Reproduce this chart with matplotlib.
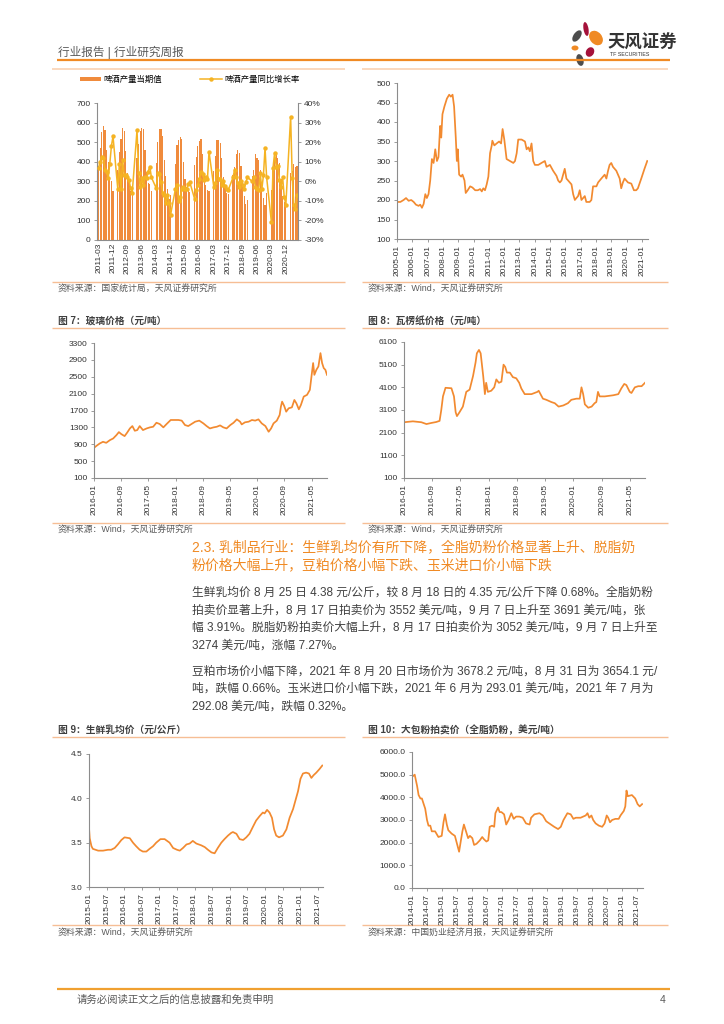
import matplotlib
matplotlib.use("Agg")
import matplotlib.pyplot as plt
import numpy as np
import pandas as pd
from matplotlib.lines import Line2D
from matplotlib.patches import Ellipse, Patch

W, H = 724, 1024
ORANGE = "#F08A24"
FRAME_ORANGE = "#F6BE95"
LINE_ORANGE = "#F28A30"
BAR_ORANGE = "#F08B3C"
GOLD = "#F5B323"
TEXT_GRAY = "#404040"
SRC_GRAY = "#5A5A5A"
AXIS_GRAY = "#8C8C8C"
TICK_COLOR = "#333333"

# ---- beer output (monthly, 2011-03 .. 2021-07, Jan/Feb not published) ----
BEER_START, BEER_END = "2011-03", "2021-07"
BEER_OUTPUT = [
    380, 470, 550, 580, 560, 460, 400, 310, 300, 250,
    None, None, 360, 450, 515, 570, 555, 455, 340, 300, 250, 240,
    None, None, 420, 490, 555, 570, 565, 460, 350, 290, 285, 250,
    None, None, 395, 500, 565, 565, 530, 410, 325, 260, 210, 230,
    None, None, 390, 485, 510, 525, 515, 400, 310, 270, 250, 245,
    None, None, 385, 425, 480, 505, 515, 440, 330, 280, 255, 250,
    None, None, 355, 430, 510, 510, 495, 420, 320, 265, 240, 235,
    None, None, 330, 375, 440, 460, 445, 380, 300, 225, 185, 205,
    None, None, 325, 360, 440, 420, 410, 360, 265, 215, 180, 240,
    None, None, 255, 360, 440, 445, 420, 395, 310, 225, 195, 175,
    None, None, 340, 355, 390, 375, 380,
]
BEER_GROWTH = [
    7, 10, 12.5, 12, 6, 5, 1.5, 9, 18, 23,
    None, None, -4, 9, -4, 11, 3, 3, 2, 0.5, -3.5, -6,
    None, None, 26, 4, -3, 1.5, -2, 2, 1.5, 5, 7.5, 2,
    None, None, -3.5, 4, 3.5, -0.5, -6, -7, -11, -7, -11, -17,
    None, None, -4, -2, -10, -8, -4, -3, -4, -4, -1.5, -0.5,
    None, None, -9, -4.5, -2, 1, 5, 3.5, 0.5, 2, 1, 15,
    None, None, -3, -1, 6, 1, 1, -2, 0, -2.5, -4, -4.5,
    None, None, 2, 6, 2, -1, -3, 0, -2, -4, -0.5, 2,
    None, None, 0, 2, -3, -4, -4.5, 4, -4, 3, 17, 2,
    None, None, -21, 7, 14.5, 7.5, 8, 0.5, -3, 2, -8, -12,
    None, None, 33, 1.5, -12, -14, -7,
]
BEER_TICKS = ["2011-03", "2011-12", "2012-09", "2013-06", "2014-03", "2014-12", "2015-09",
              "2016-06", "2017-03", "2017-12", "2018-09", "2019-06", "2020-03", "2020-12"]

# ---- top-right index (decimal year) ----
INDEX_X = [2005.00, 2005.22, 2005.43, 2005.59, 2005.76, 2005.93, 2006.09, 2006.24, 2006.41, 2006.52,
           2006.63, 2006.74, 2006.85, 2006.95, 2007.06, 2007.17, 2007.28, 2007.39, 2007.50, 2007.61,
           2007.71, 2007.82, 2007.89, 2007.97, 2008.10, 2008.26, 2008.41, 2008.52, 2008.63, 2008.73,
           2008.84, 2008.91, 2008.97, 2009.06, 2009.19, 2009.28, 2009.41, 2009.49, 2009.62, 2009.78,
           2009.93, 2010.11, 2010.28, 2010.43, 2010.54, 2010.64, 2010.75, 2010.86, 2010.97, 2011.08,
           2011.19, 2011.23, 2011.36, 2011.51, 2011.67, 2011.80, 2011.90, 2012.01, 2012.16, 2012.38,
           2012.60, 2012.71, 2012.82, 2012.92, 2013.14, 2013.36, 2013.47, 2013.58, 2013.68, 2013.79,
           2013.90, 2014.01, 2014.23, 2014.44, 2014.66, 2014.77, 2014.99, 2015.20, 2015.42, 2015.53,
           2015.64, 2015.75, 2015.96, 2016.07, 2016.29, 2016.40, 2016.51, 2016.62, 2016.72, 2016.83,
           2016.94, 2017.05, 2017.16, 2017.27, 2017.37, 2017.59, 2017.70, 2017.81, 2018.03, 2018.14,
           2018.35, 2018.57, 2018.68, 2018.79, 2018.89, 2019.00, 2019.11, 2019.33, 2019.55, 2019.65,
           2019.76, 2019.87, 2020.09, 2020.31, 2020.48, 2020.63, 2020.74, 2020.96, 2021.17, 2021.35]
INDEX_Y = [195, 195, 200, 205, 198, 200, 195, 188, 185, 188,
           180, 190, 215, 205, 215, 250, 305, 295, 330, 300,
           310, 390, 360, 420, 440, 460, 470, 465, 470, 440,
           360, 300, 330, 265, 260, 265, 250, 218, 225, 235,
           232, 225, 225, 228, 222, 230, 225, 240, 260, 320,
           340, 352, 340, 345, 350, 345, 382, 355, 305, 300,
           295, 300, 320, 355, 355, 350, 330, 335, 325, 345,
           300, 290, 290, 295, 300, 285, 290, 275, 262, 250,
           245, 250, 280, 255, 245, 240, 215, 200, 205, 210,
           225, 200, 205, 210, 195, 195, 200, 235, 235, 245,
           255, 265, 255, 275, 290, 295, 285, 275, 255, 230,
           245, 255, 245, 242, 225, 225, 230, 255, 280, 300]
INDEX_TICKS = [f"{yr}-01" for yr in range(2005, 2022)]

# ---- Fig 7 glass price ----
GLASS_X = [2016.00, 2016.06, 2016.14, 2016.22, 2016.30, 2016.39, 2016.47, 2016.55, 2016.61, 2016.67,
           2016.75, 2016.81, 2016.88, 2016.94, 2017.00, 2017.06, 2017.12, 2017.20, 2017.29, 2017.37,
           2017.45, 2017.53, 2017.61, 2017.70, 2017.78, 2017.88, 2017.98, 2018.07, 2018.15, 2018.23,
           2018.31, 2018.39, 2018.48, 2018.58, 2018.68, 2018.76, 2018.84, 2018.93, 2019.01, 2019.09,
           2019.17, 2019.25, 2019.34, 2019.42, 2019.50, 2019.58, 2019.62, 2019.70, 2019.79, 2019.87,
           2019.95, 2020.03, 2020.11, 2020.20, 2020.28, 2020.34, 2020.40, 2020.48, 2020.55, 2020.58,
           2020.61, 2020.66, 2020.71, 2020.77, 2020.85, 2020.91, 2020.96, 2021.02, 2021.07, 2021.14,
           2021.22, 2021.29, 2021.32, 2021.37, 2021.40, 2021.45, 2021.50, 2021.55, 2021.59, 2021.63,
           2021.67, 2021.71]
GLASS_Y = [815, 862, 918, 958, 934, 998, 1037, 1117, 1188, 1140,
           1093, 1172, 1275, 1331, 1220, 1236, 1331, 1236, 1275, 1300,
           1315, 1410, 1380, 1300, 1380, 1475, 1475, 1475, 1460, 1355,
           1331, 1380, 1435, 1460, 1395, 1331, 1275, 1300, 1315, 1347,
           1300, 1275, 1355, 1410, 1490, 1435, 1370, 1420, 1435, 1475,
           1460, 1490, 1395, 1331, 1196, 1275, 1395, 1460, 1595, 1790,
           1910, 1810, 1672, 1752, 1775, 1950, 1870, 1728, 1830, 2030,
           2070, 2190, 2430, 2825, 2545, 2665, 2745, 3060, 2825, 2705,
           2665, 2545]
GLASS_TICKS = ["2016-01", "2016-09", "2017-05", "2018-01", "2018-09", "2019-05", "2020-01", "2020-09", "2021-05"]

# ---- Fig 8 corrugated paper price ----
PAPER_X = [2016.00, 2016.21, 2016.41, 2016.53, 2016.65, 2016.76, 2016.84, 2016.88, 2016.92, 2016.98,
           2017.12, 2017.18, 2017.22, 2017.25, 2017.31, 2017.39, 2017.47, 2017.55, 2017.63, 2017.69,
           2017.72, 2017.77, 2017.81, 2017.87, 2017.91, 2017.94, 2017.98, 2018.06, 2018.13, 2018.18,
           2018.24, 2018.30, 2018.35, 2018.39, 2018.43, 2018.50, 2018.57, 2018.65, 2018.72, 2018.77,
           2018.85, 2019.01, 2019.15, 2019.18, 2019.28, 2019.36, 2019.48, 2019.56, 2019.65, 2019.76,
           2019.87, 2019.95, 2020.07, 2020.15, 2020.19, 2020.23, 2020.27, 2020.35, 2020.43, 2020.50,
           2020.54, 2020.58, 2020.62, 2020.74, 2020.94, 2021.06, 2021.13, 2021.20, 2021.25, 2021.33,
           2021.37, 2021.45, 2021.53, 2021.61, 2021.69]
PAPER_Y = [2560, 2600, 2560, 2480, 2530, 2570, 2620, 3100, 3700, 4080,
           4060, 3700, 3000, 2830, 3000, 3250, 3900, 4000, 4600, 5200,
           5600, 5750, 5600, 4600, 3800, 4300, 3900, 3950, 4100, 4450,
           4300, 4350, 5100, 5000, 4750, 4750, 4550, 4500, 4300, 4050,
           3800, 3800, 3900, 3950, 3600, 3550, 3450, 3400, 3250, 3300,
           3400, 3550, 3600, 3600, 4100, 3800, 3350, 3200, 3250, 3400,
           3450, 3900, 3700, 3700, 3750, 3800, 4050, 4250, 4200, 3900,
           3850, 4100, 4150, 4150, 4300]
PAPER_TICKS = GLASS_TICKS

# ---- Fig 9 fresh milk price ----
MILK_X = [2015.00, 2015.02, 2015.07, 2015.11, 2015.26, 2015.40, 2015.54, 2015.63, 2015.73, 2015.82,
          2015.92, 2016.01, 2016.16, 2016.25, 2016.34, 2016.44, 2016.53, 2016.63, 2016.72, 2016.82,
          2016.91, 2017.03, 2017.15, 2017.29, 2017.39, 2017.50, 2017.58, 2017.67, 2017.77, 2017.86,
          2017.95, 2018.05, 2018.19, 2018.29, 2018.38, 2018.48, 2018.57, 2018.66, 2018.76, 2018.85,
          2018.95, 2019.04, 2019.09, 2019.19, 2019.28, 2019.38, 2019.47, 2019.56, 2019.66, 2019.75,
          2019.85, 2019.94, 2019.99, 2020.06, 2020.13, 2020.20, 2020.26, 2020.32, 2020.40, 2020.51,
          2020.61, 2020.70, 2020.80, 2020.87, 2020.94, 2021.01, 2021.08, 2021.17, 2021.25, 2021.32,
          2021.38, 2021.46, 2021.55, 2021.63]
MILK_Y = [3.67, 3.55, 3.46, 3.43, 3.41, 3.41, 3.42, 3.42, 3.44, 3.48,
          3.53, 3.56, 3.55, 3.50, 3.46, 3.42, 3.40, 3.40, 3.43, 3.46,
          3.50, 3.54, 3.54, 3.50, 3.44, 3.42, 3.41, 3.44, 3.48, 3.49,
          3.52, 3.49, 3.47, 3.45, 3.42, 3.39, 3.38, 3.44, 3.50, 3.54,
          3.58, 3.61, 3.62, 3.60, 3.54, 3.53, 3.56, 3.60, 3.68, 3.75,
          3.80, 3.84, 3.83, 3.87, 3.84, 3.78, 3.65, 3.58, 3.56, 3.58,
          3.65, 3.78, 3.88, 3.98, 4.08, 4.22, 4.28, 4.29, 4.28, 4.23,
          4.26, 4.29, 4.33, 4.37]
MILK_TICKS = [f"{yr}-{m}" for yr in range(2015, 2022) for m in ("01", "07")]

# ---- Fig 10 whole milk powder auction price ----
WMP_X = [2014.00, 2014.09, 2014.17, 2014.22, 2014.28, 2014.33, 2014.39, 2014.44, 2014.50, 2014.55,
         2014.61, 2014.66, 2014.77, 2014.88, 2014.99, 2015.05, 2015.10, 2015.16, 2015.21, 2015.32,
         2015.43, 2015.49, 2015.57, 2015.63, 2015.68, 2015.73, 2015.80, 2015.87, 2015.93, 2016.01,
         2016.07, 2016.15, 2016.26, 2016.34, 2016.40, 2016.48, 2016.54, 2016.59, 2016.67, 2016.74,
         2016.78, 2016.87, 2016.92, 2016.98, 2017.07, 2017.14, 2017.22, 2017.31, 2017.39, 2017.47,
         2017.58, 2017.69, 2017.80, 2017.92, 2017.97, 2018.08, 2018.25, 2018.36, 2018.47, 2018.52,
         2018.63, 2018.74, 2018.87, 2018.96, 2019.05, 2019.18, 2019.29, 2019.38, 2019.46, 2019.62,
         2019.79, 2019.85, 2019.91, 2019.98, 2020.04, 2020.12, 2020.23, 2020.34, 2020.42, 2020.49,
         2020.54, 2020.60, 2020.67, 2020.78, 2020.89, 2020.95, 2021.06, 2021.11, 2021.15, 2021.19,
         2021.33, 2021.44, 2021.52, 2021.59, 2021.67]
WMP_Y = [4900, 5000, 4500, 4100, 3950, 3950, 3700, 3500, 3000, 2750,
         2750, 2500, 2500, 2250, 2300, 2900, 3250, 2800, 2550, 2400,
         2300, 2000, 1600, 2100, 2500, 2800, 2500, 2200, 2300, 2200,
         1900, 1950, 2100, 2250, 2150, 2050, 2100, 2700, 2750, 2700,
         3300, 3550, 3350, 3350, 3250, 2800, 3000, 3300, 3050, 3150,
         3150, 3100, 2850, 2800, 3100, 3250, 3300, 3200, 2950, 2900,
         2800, 2700, 2600, 2700, 3000, 3300, 3250, 3050, 3100, 3100,
         3200, 3300, 3100, 3200, 3000, 2850, 2750, 2700, 2850, 3200,
         3100, 2900, 3000, 3050, 3050, 3200, 3400, 3600, 4300, 4050,
         4100, 3950, 3700, 3600, 3700]
WMP_TICKS = [f"{yr}-{m}" for yr in range(2014, 2022) for m in ("01", "07")]

HEADING_LINES = [
    "2.3. 乳制品行业：生鲜乳均价有所下降，全脂奶粉价格显著上升、脱脂奶",
    "粉价格大幅上升，豆粕价格小幅下跌、玉米进口价小幅下跌",
]
BODY_LINES = [
    "生鲜乳均价 8 月 25 日 4.38 元/公斤，较 8 月 18 日的 4.35 元/公斤下降 0.68%。全脂奶粉",
    "拍卖价显著上升，8 月 17 日拍卖价为 3552 美元/吨，9 月 7 日上升至 3691 美元/吨，张",
    "幅 3.91%。脱脂奶粉拍卖价大幅上升，8 月 17 日拍卖价为 3052 美元/吨，9 月 7 日上升至",
    "3274 美元/吨，涨幅 7.27%。",
    "豆粕市场价小幅下降，2021 年 8 月 20 日市场价为 3678.2 元/吨，8 月 31 日为 3654.1 元/",
    "吨，跌幅 0.66%。玉米进口价小幅下跌，2021 年 6 月为 293.01 美元/吨，2021 年 7 月为",
    "292.08 美元/吨，跌幅 0.32%。",
]
BODY_Y = [593, 611, 628, 646, 672, 689, 707]

plt.rcParams.update({
    "font.family": ["Liberation Sans", "Noto Sans CJK SC"],
    "axes.unicode_minus": False,
})


def ym_to_year(label):
    yr, mo = label.split("-")
    return int(yr) + (int(mo) - 1) / 12


def px_axes(fig, x0, y0, x1, y1):
    return fig.add_axes([x0 / W, 1 - y1 / H, (x1 - x0) / W, (y1 - y0) / H])


def style_axis(ax):
    ax.set_facecolor("none")
    ax.spines["top"].set_visible(False)
    ax.spines["right"].set_visible(False)
    for side in ("left", "bottom"):
        ax.spines[side].set_color(AXIS_GRAY)
        ax.spines[side].set_linewidth(0.8)
    ax.tick_params(axis="both", labelsize=6, color=AXIS_GRAY, labelcolor=TICK_COLOR,
                   length=2.5, width=0.6, pad=2)


def plot_price(ax, x, y, xlim, ylim, yticks, ylabels, xticks):
    ax.plot(x, y, color=LINE_ORANGE, lw=1.25, solid_joinstyle="round")
    ax.set_xlim(*xlim)
    ax.set_ylim(*ylim)
    ax.set_yticks(yticks)
    ax.set_yticklabels(ylabels)
    ax.set_xticks([ym_to_year(t) for t in xticks])
    ax.set_xticklabels(xticks, rotation=90)
    style_axis(ax)


def plot_beer(fig):
    ax = px_axes(fig, 97, 103, 298, 240)
    months = pd.period_range(BEER_START, BEER_END, freq="M")
    pos = np.arange(len(months))
    bars = np.array([np.nan if v is None else v for v in BEER_OUTPUT], dtype=float)
    ax.bar(pos, bars, width=0.82, color=BAR_ORANGE, linewidth=0)
    ax.set_xlim(-1.0, len(months) - 0.4)
    ax.set_ylim(0, 700)
    ax.set_yticks(range(0, 701, 100))
    labels = [str(p) for p in months]
    ax.set_xticks([labels.index(t) for t in BEER_TICKS])
    ax.set_xticklabels(BEER_TICKS, rotation=90)
    style_axis(ax)
    ax.tick_params(axis="x", length=0)

    ax2 = ax.twinx()
    valid = [i for i, v in enumerate(BEER_GROWTH) if v is not None]
    ax2.plot(valid, [BEER_GROWTH[i] for i in valid], color=GOLD, lw=1.1,
             marker="o", markersize=3.2, markeredgewidth=0)
    ax2.set_ylim(-30, 40)
    ax2.set_yticks(range(-30, 41, 10))
    ax2.set_yticklabels([f"{v}%" for v in range(-30, 41, 10)])
    ax2.spines["top"].set_visible(False)
    ax2.spines["left"].set_visible(False)
    ax2.spines["bottom"].set_visible(False)
    ax2.spines["right"].set_color(AXIS_GRAY)
    ax2.spines["right"].set_linewidth(0.8)
    ax2.tick_params(axis="y", labelsize=6, color=AXIS_GRAY, labelcolor=TICK_COLOR,
                    length=2.5, width=0.6, pad=2)

    handles = [
        Patch(facecolor=BAR_ORANGE, edgecolor="none", label="啤酒产量当期值"),
        Line2D([0], [0], color=GOLD, lw=1.1, marker="o", markersize=3.2,
               markeredgewidth=0, label="啤酒产量同比增长率"),
    ]
    ax.legend(handles=handles, loc="center", bbox_to_anchor=(0.46, 1.17), ncol=2,
              frameon=False, fontsize=6, handlelength=2.6, handleheight=0.5,
              columnspacing=4.5, handletextpad=0.3)


def draw_page(fig):
    page = fig.add_axes([0, 0, 1, 1], zorder=-1)
    page.set_xlim(0, W)
    page.set_ylim(H, 0)
    page.axis("off")

    # header
    page.text(58, 52, "行业报告 | 行业研究周报", fontsize=8.4, color="#595959", va="center",
              fontweight="medium")
    page.plot([57, 670], [60, 60], color=ORANGE, lw=1.6, solid_capstyle="butt")
    for (x0, x1) in ((52, 345), (362, 668)):
        page.plot([x0, x1], [68.5, 68.5], color="#FAD5B9", lw=1.3, solid_capstyle="butt")
    petals = [
        ((577, 36), 7, 13, 35, "#4D4D4D"),
        ((586, 29), 5, 14, -10, "#A5123A"),
        ((596, 38), 12, 16, -40, ORANGE),
        ((575, 48), 7, 5, 0, ORANGE),
        ((590, 52), 8, 10, 30, "#A5123A"),
        ((580, 60), 7, 12, -15, "#4D4D4D"),
    ]
    for xy, w, h, ang, col in petals:
        page.add_patch(Ellipse(xy, w, h, angle=ang, color=col, lw=0))
    page.text(607, 43, "天风证券", fontsize=12.5, color="#333333", va="center", fontweight="bold",
              family=["Noto Sans CJK SC"])
    page.text(610, 55, "TF SECURITIES", fontsize=3.8, color="#333333", va="center")

    # frame lines and sources of the chart blocks
    for x0, x1 in ((52, 345), (362, 668)):
        for y in (282, 328, 523, 737, 925):
            page.plot([x0, x1], [y, y], color=FRAME_ORANGE, lw=1.0, solid_capstyle="butt")
    sources = [
        (58, 289, "资料来源：国家统计局，天风证券研究所"),
        (368, 289, "资料来源：Wind，天风证券研究所"),
        (58, 530, "资料来源：Wind，天风证券研究所"),
        (368, 530, "资料来源：Wind，天风证券研究所"),
        (58, 933, "资料来源：Wind，天风证券研究所"),
        (368, 933, "资料来源：中国奶业经济月报，天风证券研究所"),
    ]
    for x, y, s in sources:
        page.text(x, y, s, fontsize=6.4, color=SRC_GRAY, va="center")
    titles = [
        (58, 321, "图 7：玻璃价格（元/吨）"),
        (368, 321, "图 8：瓦楞纸价格（元/吨）"),
        (58, 730, "图 9：生鲜乳均价（元/公斤）"),
        (368, 730, "图 10：大包粉拍卖价（全脂奶粉，美元/吨）"),
    ]
    for x, y, s in titles:
        page.text(x, y, s, fontsize=7, color="#404040", va="center", fontweight="bold")

    # section heading and body
    for y, s in zip((547, 565), HEADING_LINES):
        page.text(192, y, s, fontsize=10, color=ORANGE, va="center", fontweight="medium")
    for y, s in zip(BODY_Y, BODY_LINES):
        page.text(192, y, s, fontsize=8.45, color=TEXT_GRAY, va="center")

    # footer
    page.plot([57, 670], [989, 989], color="#F0A030", lw=1.6, solid_capstyle="butt")
    page.text(77, 1000, "请务必阅读正文之后的信息披露和免责申明", fontsize=7.5, color="#595959", va="center")
    page.text(666, 1000, "4", fontsize=7.5, color="#595959", va="center", ha="right")


fig = plt.figure(figsize=(W / 100, H / 100), dpi=100)
fig.patch.set_facecolor("white")
draw_page(fig)
plot_beer(fig)

ax = px_axes(fig, 397, 83, 648, 239)
plot_price(ax, INDEX_X, INDEX_Y, (2005.0, 2021.40), (100, 500), range(100, 501, 50),
           [str(v) for v in range(100, 501, 50)], INDEX_TICKS)

ax = px_axes(fig, 94, 343, 327, 478)
plot_price(ax, GLASS_X, GLASS_Y, (2016.0, 2021.71), (100, 3300), range(100, 3301, 400),
           [str(v) for v in range(100, 3301, 400)], GLASS_TICKS)

ax = px_axes(fig, 404, 342, 645, 478)
plot_price(ax, PAPER_X, PAPER_Y, (2016.0, 2021.69), (100, 6100), range(100, 6101, 1000),
           [str(v) for v in range(100, 6101, 1000)], PAPER_TICKS)

ax = px_axes(fig, 89, 754, 323, 887)
plot_price(ax, MILK_X, MILK_Y, (2015.0, 2021.65), (3.0, 4.5), [3.0, 3.5, 4.0, 4.5],
           ["3.0", "3.5", "4.0", "4.5"], MILK_TICKS)

ax = px_axes(fig, 412, 752, 643, 888)
plot_price(ax, WMP_X, WMP_Y, (2014.0, 2021.70), (0, 6000), range(0, 6001, 1000),
           [f"{v:.1f}" for v in range(0, 6001, 1000)], WMP_TICKS)

fig.savefig("out.png", dpi=100, facecolor="white")
